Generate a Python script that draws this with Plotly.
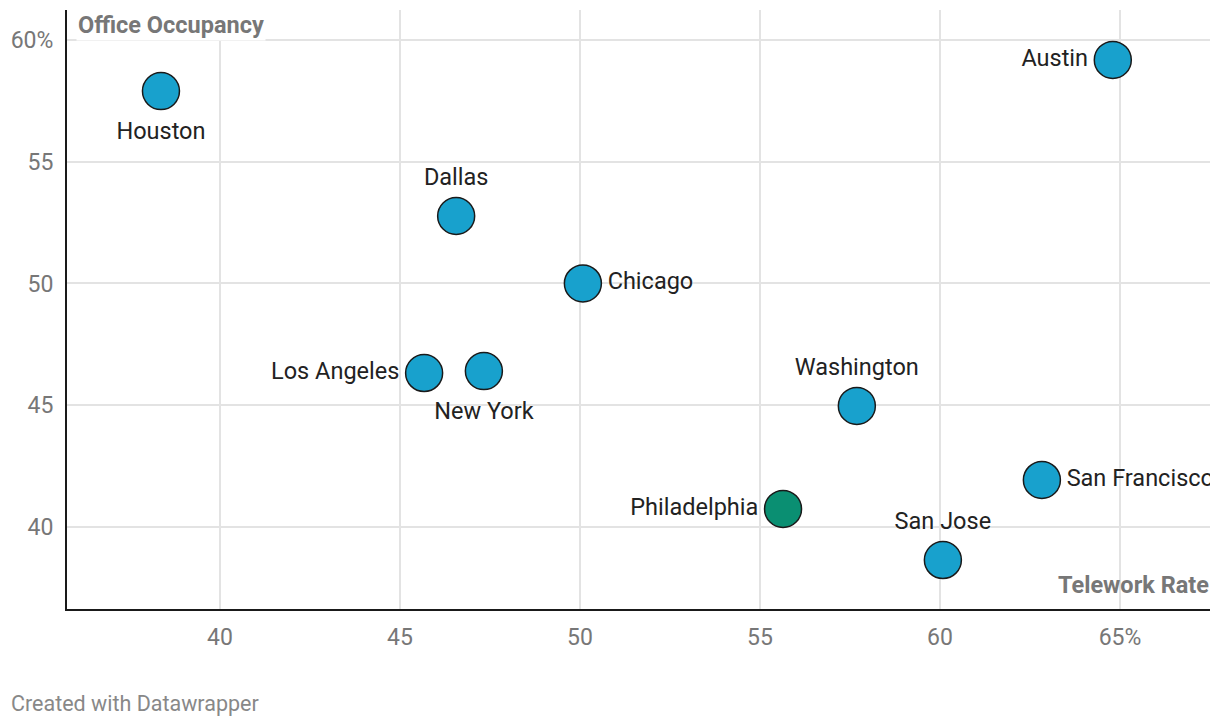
import plotly.graph_objects as go

cities = ["Houston", "Austin", "Dallas", "Chicago", "Los Angeles", "New York",
          "Washington", "San Francisco", "Philadelphia", "San Jose"]
telework = [38.36, 64.8, 46.56, 50.08, 45.67, 47.33, 57.69, 62.83, 55.64, 60.08]
occupancy = [57.9, 59.18, 52.77, 50.0, 46.32, 46.4, 44.97, 41.93, 40.74, 38.64]
label_pos = ["bottom center", "middle left", "top center", "middle right", "middle left",
             "bottom center", "top center", "middle right", "middle left", "top center"]
colors = ["#18a1cd"] * 8 + ["#0a8f72", "#18a1cd"]

x_ticks = [40, 45, 50, 55, 60, 65]
x_ticktext = ["40", "45", "50", "55", "60", "65%"]
y_ticks = [40, 45, 50, 55, 60]
y_ticktext = ["40", "45", "50", "55", "60%"]

# spacing of each label from its point (invisible marker size used for text offset)
label_gap = [47 if p.startswith("bottom") else 38 for p in label_pos]

fig = go.Figure()
fig.add_trace(go.Scatter(
    x=telework, y=occupancy, mode="markers",
    marker=dict(size=37, color=colors, line=dict(color="#1a1a1a", width=1.5)),
    hoverinfo="skip", showlegend=False,
))
fig.add_trace(go.Scatter(
    x=telework, y=occupancy, mode="markers+text",
    text=cities, textposition=label_pos,
    textfont=dict(family="Roboto", size=23.5, color="#222222",
                  shadow="0px 0px 3px #ffffff"),
    marker=dict(size=label_gap, color="rgba(0,0,0,0)", line=dict(width=0)),
    hoverinfo="skip", showlegend=False, cliponaxis=True,
))

fig.update_layout(
    width=1212, height=718,
    margin=dict(l=59, r=10, t=2, b=117),
    paper_bgcolor="white", plot_bgcolor="white",
    font=dict(family="Roboto", color="#777777"),
    xaxis=dict(range=[35.75, 67.5], tickvals=x_ticks, ticktext=x_ticktext,
               showgrid=True, gridcolor="#e3e3e3", gridwidth=1.5,
               zeroline=False, showline=True, linecolor="#1a1a1a", linewidth=2,
               ticks="", tickfont=dict(size=23, color="#777777"), ticklabelstandoff=6),
    yaxis=dict(range=[36.63, 61.23], tickvals=y_ticks, ticktext=y_ticktext,
               showgrid=True, gridcolor="#e3e3e3", gridwidth=1.5,
               zeroline=False, showline=True, linecolor="#1a1a1a", linewidth=2,
               ticks="", tickfont=dict(size=23, color="#777777"), ticklabelstandoff=7),
    annotations=[
        dict(text="<b>Office Occupancy</b>", xref="paper", yref="paper",
             x=0, y=1.0, xanchor="left", yanchor="top", xshift=9, yshift=1, showarrow=False,
             font=dict(family="Roboto", size=23.5, color="#777777"), bgcolor="white"),
        dict(text="<b>Telework Rate</b>", xref="paper", yref="paper",
             x=1.0, y=0.0, xanchor="right", yanchor="middle", yshift=24, xshift=1, showarrow=False,
             font=dict(family="Roboto", size=23.5, color="#777777")),
        dict(text="Created with Datawrapper", xref="paper", yref="paper",
             x=0, y=0, xanchor="left", yanchor="middle", xshift=-58, yshift=-94,
             showarrow=False, font=dict(family="Roboto", size=21.5, color="#888888")),
    ],
)

fig.write_html("out.html")
